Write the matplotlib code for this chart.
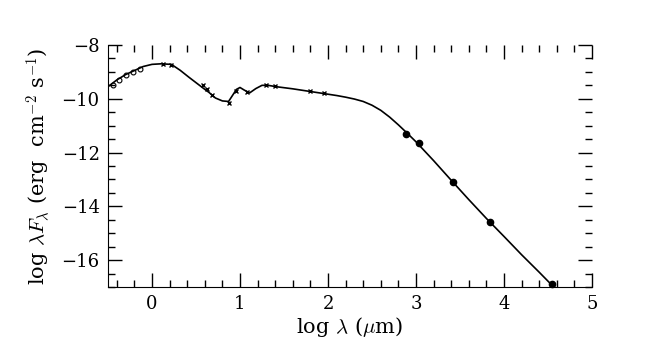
import matplotlib
matplotlib.use("Agg")
import matplotlib.pyplot as plt
from matplotlib.ticker import MultipleLocator

plt.rcParams['font.family'] = ['DejaVu Serif']
plt.rcParams['mathtext.fontset'] = 'cm'

# model SED (log lambda in micron, log lambda F_lambda)
model_x = [-0.5, -0.4, -0.3, -0.2, -0.1, 0.0, 0.1, 0.22, 0.32, 0.42, 0.5, 0.58, 0.65, 0.72, 0.8, 0.87,
           0.92, 0.96, 1.0, 1.05, 1.11, 1.18, 1.25, 1.32, 1.41, 1.6, 1.8, 2.0, 2.1, 2.2, 2.3, 2.4, 2.5, 2.6,
           2.7, 2.8, 2.9, 3.0, 3.2, 3.4, 3.6, 3.8, 4.0, 4.2, 4.4, 4.55]
model_y = [-9.55, -9.3, -9.1, -8.95, -8.8, -8.72, -8.7, -8.72, -8.94, -9.2, -9.4, -9.6, -9.77, -9.97, -10.08, -10.1,
           -9.85, -9.65, -9.58, -9.68, -9.78, -9.62, -9.5, -9.5, -9.55, -9.63, -9.73, -9.83, -9.88, -9.94, -10.01, -10.1, -10.24, -10.43,
           -10.68, -10.97, -11.28, -11.6, -12.3, -13.03, -13.75, -14.45, -15.12, -15.8, -16.45, -16.95]

# optical photometry (open circles)
opt_x = [-0.44, -0.37, -0.3, -0.22, -0.14]
opt_y = [-9.5, -9.3, -9.12, -9.0, -8.88]

# near/mid IR photometry (crosses)
ir_x = [0.12, 0.22, 0.58, 0.63, 0.68, 0.88, 0.95, 1.08, 1.3, 1.4, 1.8, 1.95]
ir_y = [-8.72, -8.74, -9.5, -9.62, -9.85, -10.15, -9.72, -9.75, -9.48, -9.53, -9.72, -9.8]

# sub-mm / radio photometry (filled circles)
rad_x = [2.89, 3.03, 3.42, 3.84, 4.55]
rad_y = [-11.3, -11.66, -13.1, -14.57, -16.9]

fig = plt.figure(figsize=(6.56, 3.49), dpi=100)
ax = fig.add_axes([108 / 656, 1 - 287 / 349, (592 - 108) / 656, (287 - 45) / 349])

ax.plot(model_x, model_y, color='black', lw=1.2)
ax.plot(opt_x, opt_y, 'o', mfc='none', mec='black', ms=3.5, mew=0.8)
ax.plot(ir_x, ir_y, 'x', color='black', ms=3.5, mew=1.0)
ax.plot(rad_x, rad_y, 'o', color='black', ms=4.5, clip_on=False)

ax.set_xlim(-0.5, 5.0)
ax.set_ylim(-17, -8)
ax.xaxis.set_major_locator(MultipleLocator(1))
ax.xaxis.set_minor_locator(MultipleLocator(0.2))
ax.yaxis.set_major_locator(MultipleLocator(2))
ax.yaxis.set_minor_locator(MultipleLocator(0.5))
ax.tick_params(which='both', direction='in', top=True, right=True, labelsize=13, width=1)
ax.tick_params(which='major', length=10, pad=6)
ax.tick_params(which='minor', length=5)
ax.spines['top'].set_visible(False)
ax.spines['right'].set_visible(False)

ax.set_xlabel(r'log $\lambda$ ($\mu$m)', fontsize=15, labelpad=1)
ax.set_ylabel(r'log $\lambda F_\lambda$ (erg  cm$^{-2}$ s$^{-1}$)', fontsize=15, labelpad=6)

fig.savefig('out.png', dpi=100)
